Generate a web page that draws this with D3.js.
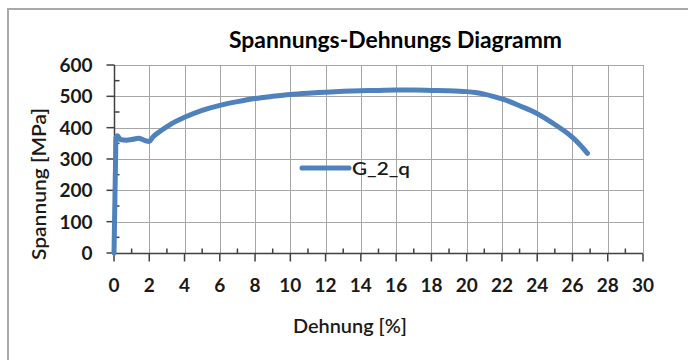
<!DOCTYPE html>
<html>
<head>
<meta charset="utf-8">
<script src="https://cdn.jsdelivr.net/npm/d3@7"></script>
<style>
  html, body { margin: 0; padding: 0; background: #fff; }
  svg { display: block; font-family: Lato, "Open Sans", sans-serif; }
</style>
</head>
<body>
<svg id="chart" width="688" height="360"></svg>
<script>
// Strain (%) and stress (MPa) readings of specimen G_2_q
const strain = [0, 0.03, 0.06, 0.09, 0.11, 0.2, 0.35, 0.7, 1.0, 1.4, 1.7, 2.0, 2.2, 2.6, 3.0, 3.5, 4, 5, 6, 7, 8, 9, 10, 11, 12, 13, 14, 15, 16, 17, 18, 19, 20, 20.5, 21, 21.5, 22, 23, 24, 24.5, 25, 25.5, 26, 26.4, 26.85];
const stress = [0, 100, 200, 300, 368, 374, 362, 360, 362, 366, 360, 356, 370, 388, 403, 420, 433, 455, 471, 483, 493, 500, 506, 510, 513, 516, 518, 519, 520, 520, 519, 518, 515, 512, 507, 500, 492, 470, 445, 428, 410, 391, 369, 347, 318];
const seriesName = "G_2_q";
const xTicks = [0, 2, 4, 6, 8, 10, 12, 14, 16, 18, 20, 22, 24, 26, 28, 30];
const yTicks = [0, 100, 200, 300, 400, 500, 600];
const xMinor = d3.range(1, 30, 2);
const yMinor = d3.range(50, 600, 100);

const svg = d3.select("#chart");
const x = d3.scaleLinear().domain([0, 30]).range([114, 643]);
const y = d3.scaleLinear().domain([0, 600]).range([253, 65]);

const gridColor = "#a6a6a6";
const axisColor = "#404040";
const lineColor = "#4f81bd";

// outer chart frame
svg.append("rect")
  .attr("x", 8).attr("y", 9).attr("width", 700).attr("height", 370)
  .attr("fill", "none").attr("stroke", "#a9a9a9").attr("stroke-width", 2);

// title
svg.append("text")
  .attr("x", 395.5).attr("y", 48)
  .attr("text-anchor", "middle")
  .attr("font-size", 22).attr("font-weight", "bold")
  .attr("textLength", 333).attr("lengthAdjust", "spacingAndGlyphs")
  .attr("fill", "#000")
  .text("Spannungs-Dehnungs Diagramm");

// grid
const grid = svg.append("g").attr("shape-rendering", "crispEdges");
grid.selectAll(".vg").data(xTicks.slice(1)).join("line")
  .attr("x1", d => Math.round(x(d)) + 0.5).attr("x2", d => Math.round(x(d)) + 0.5)
  .attr("y1", y(600)).attr("y2", y(0))
  .attr("stroke", gridColor).attr("stroke-width", 1.2);
grid.selectAll(".hg").data(yTicks.slice(1)).join("line")
  .attr("x1", x(0)).attr("x2", x(30))
  .attr("y1", d => Math.round(y(d)) + 0.5).attr("y2", d => Math.round(y(d)) + 0.5)
  .attr("stroke", gridColor).attr("stroke-width", 1.2);

// x axis
const xAxis = svg.append("g").attr("transform", `translate(0,${Math.round(y(0)) + 0.5})`);
xAxis.append("line").attr("x1", x(0)).attr("x2", x(30)).attr("stroke", axisColor).attr("stroke-width", 1.5);
xAxis.selectAll(".xt").data(xTicks).join("line")
  .attr("x1", d => x(d)).attr("x2", d => x(d)).attr("y1", 0).attr("y2", 8)
  .attr("stroke", axisColor).attr("stroke-width", 1.5);
xAxis.selectAll(".xm").data(xMinor).join("line")
  .attr("x1", d => x(d)).attr("x2", d => x(d)).attr("y1", 0).attr("y2", -5)
  .attr("stroke", axisColor).attr("stroke-width", 1.5);
xAxis.selectAll(".xl").data(xTicks).join("text")
  .attr("x", d => x(d)).attr("y", 38.5)
  .attr("text-anchor", "middle").attr("font-size", 19).attr("font-weight", "bold")
  .attr("fill", "#1a1a1a")
  .text(d => d);

// y axis
const yAxis = svg.append("g").attr("transform", `translate(${Math.round(x(0)) + 0.5},0)`);
yAxis.append("line").attr("y1", y(0)).attr("y2", y(600)).attr("stroke", axisColor).attr("stroke-width", 1.5);
yAxis.selectAll(".yt").data(yTicks).join("line")
  .attr("y1", d => y(d)).attr("y2", d => y(d)).attr("x1", -8).attr("x2", 0)
  .attr("stroke", axisColor).attr("stroke-width", 1.5);
yAxis.selectAll(".ym").data(yMinor).join("line")
  .attr("y1", d => y(d)).attr("y2", d => y(d)).attr("x1", 0).attr("x2", 5)
  .attr("stroke", axisColor).attr("stroke-width", 1.5);
yAxis.selectAll(".yl").data(yTicks).join("text")
  .attr("x", -22).attr("y", d => y(d)).attr("dy", "0.36em")
  .attr("text-anchor", "end").attr("font-size", 19).attr("font-weight", "bold")
  .attr("fill", "#1a1a1a")
  .text(d => d);

// axis titles
svg.append("text")
  .attr("x", 350).attr("y", 333)
  .attr("text-anchor", "middle").attr("font-size", 19).attr("font-weight", 600)
  .attr("textLength", 114).attr("lengthAdjust", "spacingAndGlyphs")
  .attr("fill", "#1a1a1a")
  .text("Dehnung [%]");
svg.append("text")
  .attr("transform", "translate(46,184) rotate(-90)")
  .attr("text-anchor", "middle").attr("font-size", 19).attr("font-weight", 600)
  .attr("textLength", 152).attr("lengthAdjust", "spacingAndGlyphs")
  .attr("fill", "#1a1a1a")
  .text("Spannung [MPa]");

// stress-strain curve
const pts = strain.map((s, i) => [s, stress[i]]);
svg.append("path")
  .datum(pts)
  .attr("fill", "none").attr("stroke", lineColor).attr("stroke-width", 5)
  .attr("stroke-linejoin", "round").attr("stroke-linecap", "round")
  .attr("d", d3.line().x(d => x(d[0])).y(d => y(d[1])).curve(d3.curveMonotoneX));

// legend
const lg = svg.append("g");
lg.append("line").attr("x1", 302).attr("x2", 349).attr("y1", 168).attr("y2", 168)
  .attr("stroke", lineColor).attr("stroke-width", 5).attr("stroke-linecap", "round");
lg.append("text").attr("x", 352).attr("y", 174.5)
  .attr("font-size", 18).attr("font-weight", 600)
  .attr("textLength", 58).attr("lengthAdjust", "spacingAndGlyphs")
  .attr("fill", "#1a1a1a")
  .text(seriesName);
</script>
</body>
</html>
